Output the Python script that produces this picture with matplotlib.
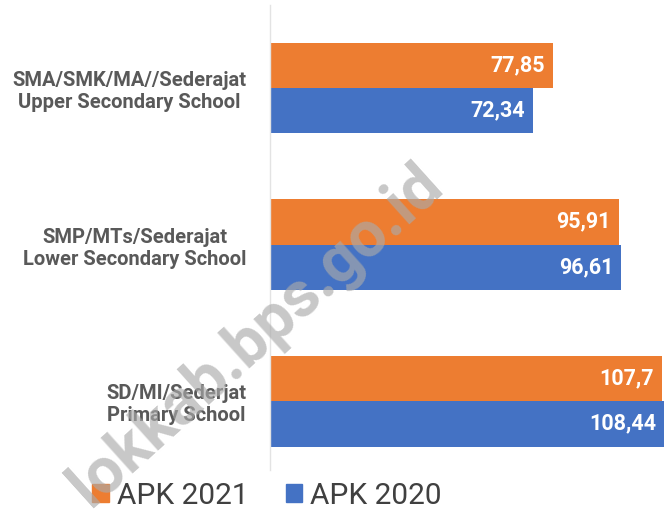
import numpy as np
import matplotlib
matplotlib.use("Agg")
import matplotlib.pyplot as plt
from matplotlib.patches import Patch

plt.rcParams['font.family'] = ['Roboto', 'DejaVu Sans']

categories = ["SD/MI/Sederjat\nPrimary School",
              "SMP/MTs/Sederajat\nLower Secondary School",
              "SMA/SMK/MA//Sederajat\nUpper Secondary School"]
apk_2021 = [107.7, 95.91, 77.85]
apk_2020 = [108.44, 96.61, 72.34]
labels_2021 = ["107,7", "95,91", "77,85"]
labels_2020 = ["108,44", "96,61", "72,34"]

orange = "#ED7D31"
blue = "#4472C4"

fig = plt.figure(figsize=(6.67, 5.19), dpi=100)
ax = fig.add_axes([270/667, 1-470/519, 395/667, 465/519])

y = np.arange(len(categories))
h = 0.29
b1 = ax.barh(y + h/2, apk_2021, height=h, color=orange)
b2 = ax.barh(y - h/2, apk_2020, height=h, color=blue)

for bar, txt in zip(b1, labels_2021):
    ax.text(bar.get_width() - 2.2, bar.get_y() + bar.get_height()/2, txt,
            ha='right', va='center', color='white', fontsize=15.5, fontweight='bold')
for bar, txt in zip(b2, labels_2020):
    ax.text(bar.get_width() - 2.2, bar.get_y() + bar.get_height()/2, txt,
            ha='right', va='center', color='white', fontsize=15.5, fontweight='bold')

ax.set_xlim(0, 108.6)
ax.set_ylim(-0.44, 2.53)
ax.set_yticks(y)
ax.set_yticklabels(categories, fontsize=14.5, fontweight='bold', color='#595959',
                   multialignment='center', linespacing=1.2)
ax.tick_params(axis='y', length=0, pad=17)
ax.set_xticks([])
for s in ['top', 'right', 'bottom']:
    ax.spines[s].set_visible(False)
ax.spines['left'].set_color('#e3e3e3')
ax.spines['left'].set_linewidth(1)

handles = [Patch(color=orange, label="APK 2021"), Patch(color=blue, label="APK 2020")]
fig.legend(handles=handles, loc='center', bbox_to_anchor=(267/667, 1-496/519), ncol=2,
           frameon=False, fontsize=21.5, labelcolor='#404040', handlelength=0.55,
           handleheight=0.55, handletextpad=0.27, columnspacing=1.25)

fig.text(256/667, 1-336/519, "lokkab.bps.go.id", rotation=42, ha='center', va='center',
         fontsize=46, fontweight='bold', color='#aaaaaa', alpha=0.65, zorder=10)

fig.savefig("out.png", dpi=100)
